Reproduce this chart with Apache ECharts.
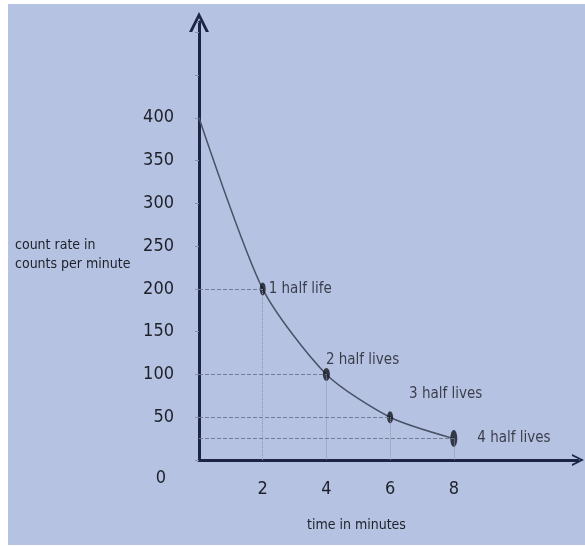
<!DOCTYPE html>
<html>
<head>
<meta charset="utf-8">
<script src="https://cdn.jsdelivr.net/npm/echarts@6/dist/echarts.min.js"></script>
<style>
  html, body { margin: 0; padding: 0; background: #fff; }
  #chart { position: absolute; left: 8px; top: 4px; width: 577px; height: 541px; }
</style>
</head>
<body>
<div id="chart"></div>
<script>
// time (minutes) and count rate (counts per minute)
const times = [0, 2, 4, 6, 8];
const counts = [400, 200, 100, 50, 25];
const halfLifeNames = ['', '1 half life', '2 half lives', '3 half lives', '4 half lives'];
const xTickLabels = [2, 4, 6, 8];
const yTickLabels = [0, 50, 100, 150, 200, 250, 300, 350, 400];

const font = "'Liberation Sans Narrow', 'DejaVu Sans Condensed', 'Liberation Sans', sans-serif";
const chevron = 'path://M0,100 L50,0 L100,100 L84,100 L50,30 L16,100 Z';
const ellipse = 'path://M50,0 A50,50 0 1,1 50,100 A50,50 0 1,1 50,0 Z';
const axisColor = '#1b2444';

const chart = echarts.init(document.getElementById('chart'));

// label placement for each half-life point
const labelOffsets = [null, [-2, 0], [-9, -14], [11, -23], [15, -1]];
const dotSizes = [null, [6, 13], [7, 13], [6, 12], [7, 17]];

const points = [];
const guideLines = [];
times.forEach((t, i) => {
    if (i === 0) return;
    points.push({
        value: [t, counts[i]],
        symbolSize: dotSizes[i],
        label: { show: true, formatter: halfLifeNames[i], position: 'right', offset: labelOffsets[i] }
    });
    guideLines.push([{ coord: [0, counts[i]] }, { coord: [t, counts[i]] }]);
    guideLines.push([{ coord: [t, counts[i]], lineStyle: { type: 'dotted', color: '#8c96b0' } }, { coord: [t, 0] }]);
});

chart.setOption({
    backgroundColor: '#b5c2e2',
    animation: false,
    grid: { left: 191, right: 7, top: 18, bottom: 85 },
    xAxis: {
        type: 'value',
        min: 0,
        max: 11.9,
        interval: 2,
        splitLine: { show: false },
        axisLine: {
            lineStyle: { color: axisColor, width: 3 },
            symbol: ['none', chevron],
            symbolSize: [24, 12]
        },
        axisTick: { show: false },
        axisLabel: {
            margin: 20,
            fontFamily: font,
            fontSize: 18,
            color: '#1d2028',
            formatter: v => xTickLabels.includes(v) ? String(v) : ''
        }
    },
    yAxis: {
        type: 'value',
        min: 0,
        max: 512,
        interval: 50,
        splitLine: { show: false },
        axisLine: {
            lineStyle: { color: axisColor, width: 3 },
            symbol: ['none', chevron],
            symbolSize: [22, 20]
        },
        axisTick: { length: 4, lineStyle: { color: '#8790a8' } },
        axisLabel: {
            margin: 25,
            fontFamily: font,
            fontSize: 18,
            color: '#1d2028',
            formatter: v => {
                if (v === 0) return '{z|0}';
                return yTickLabels.includes(v) ? String(v) : '';
            },
            rich: { z: { fontFamily: font, fontSize: 18, color: '#1d2028', padding: [36, 8, 0, 0] } }
        }
    },
    series: [
        {
            type: 'line',
            data: times.map((t, i) => [t, counts[i]]),
            smooth: 0.25,
            symbol: 'none',
            lineStyle: { color: '#4a5268', width: 1.5 },
            markLine: {
                silent: true,
                symbol: 'none',
                label: { show: false },
                lineStyle: { type: 'dashed', color: '#737c93', width: 1 },
                data: guideLines
            },
            z: 3
        },
        {
            type: 'scatter',
            data: points,
            symbol: ellipse,
            itemStyle: { color: '#111522' },
            label: { fontFamily: font, fontSize: 15, color: '#1a1c23' },
            z: 4
        }
    ],
    graphic: [
        {
            type: 'text',
            left: 7,
            top: 232,
            style: {
                text: 'count rate in\ncounts per minute',
                font: '14px ' + font,
                lineHeight: 19,
                fill: '#1d2028'
            }
        },
        {
            type: 'text',
            left: 299,
            top: 514,
            style: {
                text: 'time in minutes',
                font: '14px ' + font,
                fill: '#1d2028'
            }
        }
    ]
});
</script>
</body>
</html>
